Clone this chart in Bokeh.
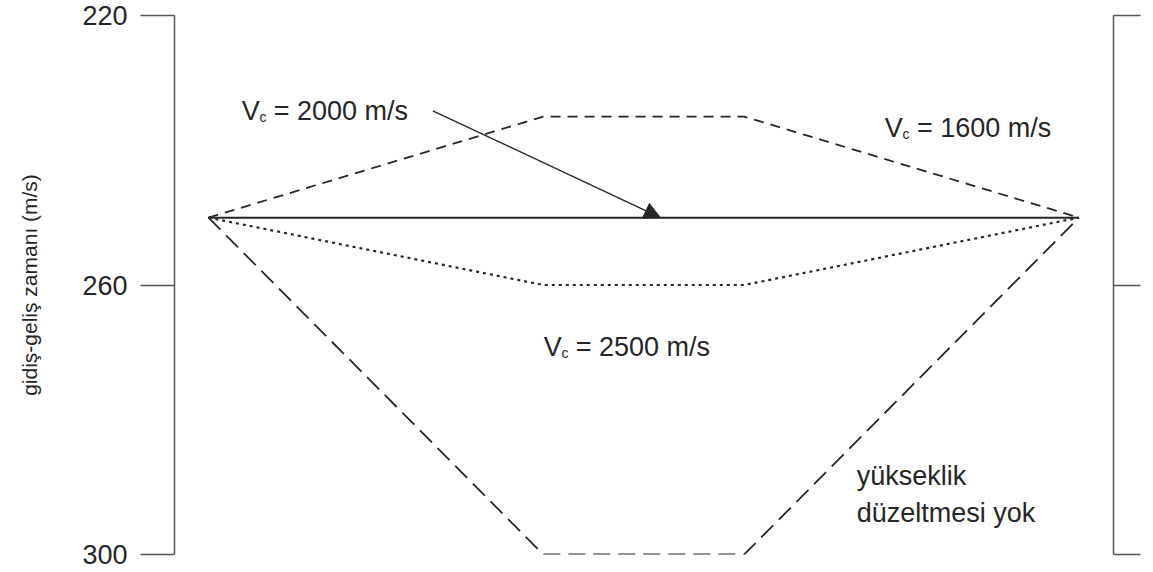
from bokeh.plotting import figure
from bokeh.models import LinearAxis, FixedTicker, Range1d, Arrow, NormalHead, Label
from bokeh.embed import file_html
from bokeh.resources import INLINE

# ---- data -------------------------------------------------------------
x_pos = [0, 10, 16, 26]                # horizontal positions (schematic)
t_1600 = [250, 235, 235, 250]          # Vc = 1600 m/s
t_2000 = [250, 250, 250, 250]          # Vc = 2000 m/s (flat)
t_2500 = [250, 260, 260, 250]          # Vc = 2500 m/s
t_none = [250, 300, 300, 250]          # no elevation correction
y_ticks = [220, 260, 300]
y_title = "gidiş-geliş zamanı (m/s)"
lbl_1600 = "= 1600 m/s"
lbl_2000 = "= 2000 m/s"
lbl_2500 = "= 2500 m/s"
lbl_none = ["yükseklik", "düzeltmesi yok"]

FONT = "Liberation Sans"
INK = "#262626"
AX = "#555555"

p = figure(width=1153, height=572, output_backend="svg", toolbar_location=None,
           x_range=Range1d(-1.015, 27.03), y_range=Range1d(300, 220),
           x_axis_type=None, y_axis_type=None,
           min_border_left=174, min_border_right=40,
           min_border_top=15, min_border_bottom=18)
p.outline_line_color = None
p.xgrid.visible = False
p.ygrid.visible = False
p.background_fill_color = "white"
p.border_fill_color = "white"

left = LinearAxis(ticker=FixedTicker(ticks=y_ticks), axis_label=y_title)
left.axis_line_color = AX
left.axis_line_width = 1.5
left.major_tick_line_color = AX
left.major_tick_line_width = 1.5
left.major_tick_out = 34
left.major_tick_in = 0
left.minor_tick_line_color = None
left.major_label_standoff = 13
left.major_label_text_font = FONT
left.major_label_text_font_size = "27px"
left.major_label_text_color = INK
left.axis_label_text_font = FONT
left.axis_label_text_font_size = "21px"
left.axis_label_text_font_style = "normal"
left.axis_label_text_color = INK
left.axis_label_standoff = 38
p.add_layout(left, "left")

right = LinearAxis(ticker=FixedTicker(ticks=y_ticks))
right.axis_line_color = AX
right.axis_line_width = 1.5
right.major_tick_line_color = AX
right.major_tick_line_width = 1.5
right.major_tick_out = 27
right.major_tick_in = 0
right.minor_tick_line_color = None
right.major_label_overrides = {t: "" for t in y_ticks}
right.major_label_standoff = 0
p.add_layout(right, "right")

p.line(x_pos, t_2000, line_color=INK, line_width=2)
p.line(x_pos, t_1600, line_color=INK, line_width=1.8, line_dash="10 7")
p.line(x_pos, t_2500, line_color=INK, line_width=2.2, line_dash="3 4")
p.line(x_pos, t_none, line_color=INK, line_width=1.8, line_dash="17 8")

p.add_layout(Arrow(end=NormalHead(size=16, fill_color=INK, line_color=INK),
                   x_start=6.70, y_start=234.15, x_end=13.5, y_end=250.0,
                   line_color=INK, line_width=1.4))

def vlabel(x0, yb, rest):
    p.add_layout(Label(x=x0, y=yb, text="V", text_font=FONT, text_font_size="27px",
                       text_color=INK, text_baseline="alphabetic", text_align="left"))
    p.add_layout(Label(x=x0 + 0.53, y=yb + 0.85, text="c", text_font=FONT,
                       text_font_size="14px", text_color=INK,
                       text_baseline="alphabetic", text_align="left"))
    p.add_layout(Label(x=x0 + 0.96, y=yb, text=rest, text_font=FONT, text_font_size="27px",
                       text_color=INK, text_baseline="alphabetic", text_align="left"))

vlabel(0.99, 234.18, lbl_2000)
vlabel(20.20, 236.68, lbl_1600)
vlabel(10.01, 269.26, lbl_2500)

p.add_layout(Label(x=19.36, y=288.33, text=lbl_none[0], text_font=FONT, text_font_size="27px",
                   text_color=INK, text_baseline="alphabetic", text_align="left"))
p.add_layout(Label(x=19.36, y=293.79, text=lbl_none[1], text_font=FONT, text_font_size="27px",
                   text_color=INK, text_baseline="alphabetic", text_align="left"))

open("out.html", "w").write(file_html(p, INLINE))
